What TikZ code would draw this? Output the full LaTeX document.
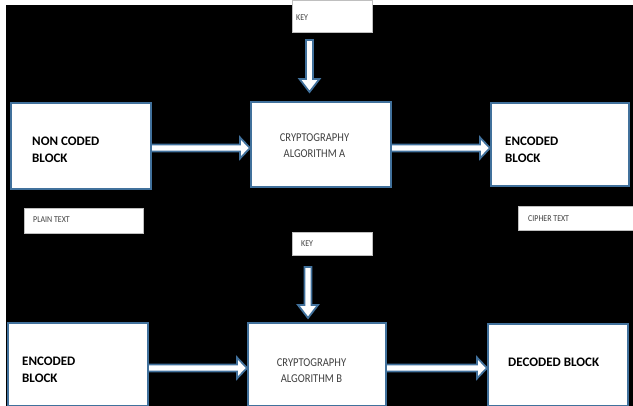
\documentclass[tikz,border=0pt]{standalone}
\usepackage{fontspec}
\setmainfont{Carlito}
\newfontfamily\condfont[FakeStretch=0.88]{Carlito}
\usetikzlibrary{calc}
\definecolor{boxblue}{HTML}{41719C}
\definecolor{txtgray}{HTML}{404040}
\newcommand\hblock[2]{\draw[barrow] ($(#1)+(0,-3.5)$) -- ($(#2)+(-10,-3.5)$) -- ($(#2)+(-10,-10.5)$) -- (#2) -- ($(#2)+(-10,10.5)$) -- ($(#2)+(-10,3.5)$) -- ($(#1)+(0,3.5)$);}
\newcommand\vblock[2]{\draw[barrow] ($(#1)+(-3.5,0)$) -- ($(#2)+(-3.5,-13)$) -- ($(#2)+(-10,-13)$) -- (#2) -- ($(#2)+(10,-13)$) -- ($(#2)+(3.5,-13)$) -- ($(#1)+(3.5,0)$) -- cycle;}
\tikzset{
  blk/.style={draw=boxblue, line width=2.2pt, fill=white, anchor=north west, inner sep=0pt},
  wbox/.style={fill=white, draw=gray!50, line width=0.4pt, anchor=north west, inner sep=0pt},
  barrow/.style={draw=boxblue, line width=1.8pt, fill=white, line join=miter},
  bigtxt/.style={font=\fontsize{13}{17}\selectfont\bfseries, text=black, align=left, anchor=west, inner sep=0pt},
  algtxt/.style={font=\condfont\fontsize{12}{16}\selectfont, text=txtgray, align=center, inner sep=0pt},
  smalltxt/.style={font=\condfont\fontsize{9}{11}\selectfont, text=txtgray, anchor=west, inner sep=0pt}
}
\begin{document}
\begin{tikzpicture}[x=1pt,y=-1pt]
\useasboundingbox (0,0) rectangle (633,406);
\clip (0,0) rectangle (633,406);
\fill[white] (0,0) rectangle (633,406);
\fill[black] (6,5) rectangle (633,406);

% white label boxes
\node[wbox, minimum width=80pt, minimum height=32pt] (key1) at (292,0) {};
\node[wbox, minimum width=80pt, minimum height=23pt] (key2) at (292,232) {};
\node[wbox, minimum width=119pt, minimum height=25pt] (plain) at (24,208) {};
\node[wbox, minimum width=118pt, minimum height=24pt] (cipher) at (518,206) {};
\node[smalltxt] (key1t) at (296,17.5) {KEY};
\node[smalltxt] (key2t) at (301,244) {KEY};
\node[smalltxt] (plaint) at (33,220) {PLAIN TEXT};
\node[smalltxt] (ciphert) at (528,218.5) {CIPHER TEXT};

% blocks
\node[blk, minimum width=140pt, minimum height=86pt] (nc) at (10,102) {};
\node[blk, minimum width=140pt, minimum height=85pt] (ca) at (250,101) {};
\node[blk, minimum width=138pt, minimum height=83pt] (enc) at (490,102) {};
\node[blk, minimum width=140pt, minimum height=83pt] (enc2) at (7,322) {};
\node[blk, minimum width=138pt, minimum height=83pt] (cb) at (247,322) {};
\node[blk, minimum width=140pt, minimum height=82pt] (dec) at (487,323) {};

\node[bigtxt] (nct) at (32,149.5) {NON CODED\\BLOCK};
\node[algtxt] (cat) at (314.5,146) {CRYPTOGRAPHY\\ALGORITHM A};
\node[bigtxt] (enct) at (505,149.5) {ENCODED\\BLOCK};
\node[bigtxt] (enc2t) at (22,370) {ENCODED\\BLOCK};
\node[algtxt] (cbt) at (311.5,370.5) {CRYPTOGRAPHY\\ALGORITHM B};
\node[bigtxt] (dect) at (508,362) {DECODED BLOCK};

% arrow coordinates
\coordinate (y1) at (0,148);
\coordinate (y2) at (0,368);
\coordinate (a1s) at (nc.east |- y1);
\coordinate (a1e) at (ca.west |- y1);
\coordinate (a2s) at (ca.east |- y1);
\coordinate (a2e) at (enc.west |- y1);
\coordinate (a3s) at (enc2.east |- y2);
\coordinate (a3e) at (cb.west |- y2);
\coordinate (a4s) at (cb.east |- y2);
\coordinate (a4e) at (dec.west |- y2);
\coordinate (k1s) at (309.5,40);
\coordinate (k1e) at (309.5,92);
\coordinate (k2s) at (308,267);
\coordinate (k2e) at (308,318);

\hblock{a1s}{a1e}
\hblock{a2s}{a2e}
\hblock{a3s}{a3e}
\hblock{a4s}{a4e}
\vblock{k1s}{k1e}
\vblock{k2s}{k2e}
\end{tikzpicture}
\end{document}
